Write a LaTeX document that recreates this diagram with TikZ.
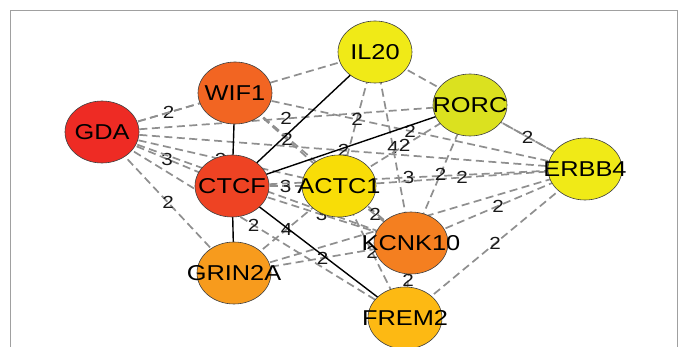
\documentclass[tikz,border=0pt]{standalone}
\usepackage{fontspec}
\usetikzlibrary{shapes.geometric}
\newfontfamily\genefont[FakeStretch=1.18]{Liberation Sans}
\pgfdeclarelayer{back}
\pgfdeclarelayer{background}
\pgfsetlayers{back,background,main}
\definecolor{cGDA}{HTML}{EE2B24}
\definecolor{cWIF}{HTML}{F26522}
\definecolor{cCTCF}{HTML}{EE4323}
\definecolor{cACT}{HTML}{F8DD07}
\definecolor{cKCN}{HTML}{F47F20}
\definecolor{cGRI}{HTML}{F79B1D}
\definecolor{cFRE}{HTML}{FDB913}
\definecolor{cIL}{HTML}{F0EA17}
\definecolor{cROR}{HTML}{DBE11F}
\definecolor{cERB}{HTML}{F0EA17}
\definecolor{edgegray}{HTML}{8F8F8F}
\definecolor{framegray}{HTML}{A0A0A0}
\tikzset{
  gene/.style={ellipse, draw=black!75, line width=0.6pt, minimum width=74pt, minimum height=62pt, inner sep=0pt},
  genetext/.style={font=\genefont\fontsize{21.5}{21.5}\selectfont, inner sep=0pt, text=black},
  weak/.style={draw=edgegray, line width=1.7pt, dash pattern=on 8pt off 4.5pt},
  strong/.style={draw=black, line width=1.4pt},
  wlab/.style={font=\genefont\fontsize{17.5}{17.5}\selectfont, text=black!90, inner sep=0pt}
}
\begin{document}
\begin{tikzpicture}[x=1pt,y=-1pt]
\useasboundingbox (0,0) rectangle (682,347);
\clip (0,0) rectangle (682,347);
% nodes
\node[gene, fill=cGDA] (gda) at (102,132) {};
\node[gene, fill=cWIF] (wif) at (235,93) {};
\node[gene, fill=cCTCF] (ctcf) at (232,186) {};
\node[gene, fill=cACT] (act) at (339,186) {};
\node[gene, fill=cKCN] (kcn) at (411,243) {};
\node[gene, fill=cGRI] (gri) at (234,273) {};
\node[gene, fill=cFRE] (fre) at (405,318) {};
\node[gene, fill=cIL] (il) at (375,52) {};
\node[gene, fill=cROR] (ror) at (470,105) {};
\node[gene, fill=cERB] (erb) at (585,169) {};
\node[genetext] (gdat) at (gda) {GDA};
\node[genetext] (wift) at (wif) {WIF1};
\node[genetext] (ctcft) at (ctcf) {CTCF};
\node[genetext] (actt) at (act) {ACTC1};
\node[genetext] (kcnt) at (kcn) {KCNK10};
\node[genetext] (grit) at (gri) {GRIN2A};
\node[genetext] (fret) at (fre) {FREM2};
\node[genetext] (ilt) at (il) {IL20};
\node[genetext] (rort) at (ror) {RORC};
\node[genetext] (erbt) at (erb) {ERBB4};
\begin{pgfonlayer}{back}
\fill[white] (0,0) rectangle (682,347);
\draw[framegray, line width=1pt] (10.5,10.5) rectangle (677,400);
\end{pgfonlayer}
\begin{pgfonlayer}{background}
% dashed edges
\draw[weak] (gda.center) -- node[wlab] {2} (wif.center);
\draw[weak] (gda.center) -- (il.center);
\draw[weak] (gda.center) -- node[wlab] {2} (ror.center);
\draw[weak] (gda.center) -- node[wlab] {2} (erb.center);
\draw[weak] (gda.center) -- node[wlab] {2} (act.center);
\draw[weak] (gda.center) -- node[wlab] {3} (ctcf.center);
\draw[weak] (gda.center) -- (kcn.center);
\draw[weak] (gda.center) -- node[wlab] {2} (fre.center);
\draw[weak] (gda.center) -- node[wlab] {2} (gri.center);
\draw[weak] (wif.center) -- node[wlab] {2} (act.center);
\draw[weak] (wif.center) -- (kcn.center);
\draw[weak] (wif.center) -- node[wlab] {2} (erb.center);
\draw[weak] (il.center) -- node[wlab] {2} (act.center);
\draw[weak] (il.center) -- node[wlab] {4} (kcn.center);
\draw[weak] (il.center) -- (erb.center);
\draw[weak] (act.center) -- node[wlab] {2} (ror.center);
\draw[weak] (ctcf.center) -- node[wlab] {3} (act.center);
\draw[weak] (ctcf.center) -- node[wlab] {3} (kcn.center);
\draw[weak] (ctcf.center) -- node[wlab] {3} (erb.center);
\draw[weak] (act.center) -- node[wlab] {2} (kcn.center);
\draw[weak] (act.center) -- node[wlab] {2} (fre.center);
\draw[weak] (act.center) -- node[wlab] {2} (erb.center);
\draw[weak] (gri.center) -- node[wlab] {4} (act.center);
\draw[weak] (gri.center) -- node[wlab] {2} (kcn.center);
\draw[weak] (gri.center) -- (erb.center);
\draw[weak] (kcn.center) -- node[wlab] {2} (fre.center);
\draw[weak] (kcn.center) -- node[wlab] {2} (erb.center);
\draw[weak] (kcn.center) -- node[wlab] {2} (ror.center);
\draw[weak] (fre.center) -- node[wlab] {2} (erb.center);
\draw[weak] (ror.center) -- node[wlab] {2} (erb.center);
% solid edges
\draw[strong] (wif.center) -- (ctcf.center);
\draw[strong] (ctcf.center) -- (gri.center);
\draw[strong] (ctcf.center) -- (il.center);
\draw[strong] (ctcf.center) -- (ror.center);
\draw[strong] (ctcf.center) -- (fre.center);
\end{pgfonlayer}
\end{tikzpicture}
\end{document}
